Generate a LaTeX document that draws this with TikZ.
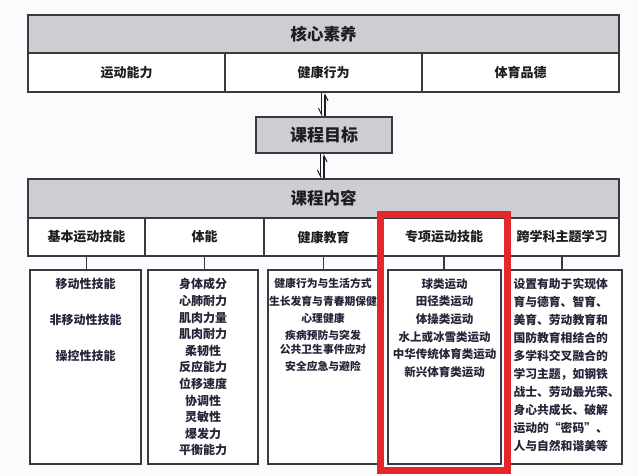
\documentclass[tikz,border=0pt]{standalone}
\usepackage{fontspec}
\setmainfont{Noto Sans CJK SC}
\usetikzlibrary{arrows.meta,fit,positioning}
\definecolor{ink}{HTML}{1E1E22}
\definecolor{listink}{HTML}{2A2238}
\definecolor{frame}{HTML}{3A3A3E}
\definecolor{headgray}{HTML}{CDCED3}
\definecolor{paper}{HTML}{FBFBFD}
\definecolor{alert}{HTML}{E5262A}
\tikzset{
  cell/.style={
    rectangle,
    draw=frame,
    line width=1.4pt,
    fill=white,
    inner sep=0pt,
    text=ink,
    font=\bfseries\fontsize{13}{15}\selectfont
  },
  headcell/.style={
    cell,
    fill=headgray,
    font=\bfseries\fontsize{16.5}{18}\selectfont
  },
  listbox/.style={
    cell,
    minimum height=194pt
  },
  listtext/.style={
    inner sep=0pt,
    anchor=north,
    align=center,
    text=listink,
    font=\bfseries\fontsize{12}{16.6}\selectfont
  },
  stem/.style={
    draw=frame,
    line width=1.4pt
  },
  harp/.style={
    -{Straight Barb[harpoon,swap,length=6pt,width=6pt,line width=1pt]},
    draw=ink,
    line width=1.1pt
  },
  highlight/.style={
    rectangle,
    draw=alert,
    line width=7pt,
    inner xsep=1.5pt,
    inner ysep=4pt
  }
}

\begin{document}
\begin{tikzpicture}[x=1pt,y=-1pt]

  % ============================================================
  % Canvas
  % ============================================================
  \fill[paper] (0,0) rectangle (638,476);
  \useasboundingbox (0,0) rectangle (638,476);

  % ============================================================
  % Core literacy block
  % ============================================================
  \node[headcell, minimum width=591pt, minimum height=38pt] (core)
       at (323.5, 34) {核心素养};
  \node[cell, minimum width=197pt, minimum height=39pt] (r1)
       at (126.5, 72.5) {运动能力};
  \node[cell, minimum width=197pt, minimum height=39pt] (r2)
       at (323.5, 72.5) {健康行为};
  \node[cell, minimum width=197pt, minimum height=39pt] (r3)
       at (520.5, 72.5) {体育品德};

  % ============================================================
  % Course goal
  % ============================================================
  \node[headcell, minimum width=136pt, minimum height=36pt,
        font=\bfseries\fontsize{17}{19}\selectfont] (goal)
       at (324, 135) {课程目标};

  % two-way harpoons between the blocks
  \draw[harp] ([xshift=-2pt]r2.south) -- ([xshift=-2pt]r2.south |- goal.north);
  \draw[harp] ([xshift=1.5pt]r2.south |- goal.north) -- ([xshift=1.5pt]r2.south);

  % ============================================================
  % Course content block
  % ============================================================
  \node[headcell, minimum width=591pt, minimum height=39pt] (content)
       at (323.5, 198.5) {课程内容};

  \draw[harp] ([xshift=-3.5pt]goal.south) -- ([xshift=-3.5pt]goal.south |- content.north);
  \draw[harp] (goal.south |- content.north) -- (goal.south);

  \node[cell, minimum width=117pt, minimum height=38pt] (c1)
       at (86.5, 237) {基本运动技能};
  \node[cell, minimum width=119pt, minimum height=38pt] (c2)
       at (204.5, 237) {体能};
  \node[cell, minimum width=119pt, minimum height=38pt] (c3)
       at (323.5, 237) {健康教育};
  \node[cell, minimum width=122pt, minimum height=38pt] (c4)
       at (444, 237) {专项运动技能};
  \node[cell, minimum width=114pt, minimum height=38pt] (c5)
       at (562, 237) {跨学科主题学习};

  % ============================================================
  % Lists under each content column
  % ============================================================
  \node[listbox, minimum width=111pt] (b1) at (85.5, 367) {};
  \node[listbox, minimum width=110pt] (b2) at (203, 367) {};
  \node[listbox, minimum width=110pt] (b3) at (323, 367) {};
  \node[listbox, minimum width=113pt] (b4) at (444.5, 367) {};
  \node[listbox, minimum width=112pt] (b5) at (566, 367) {};

  \foreach \i in {1,...,5}
    \draw[stem] (c\i.south) -- (c\i.south |- b\i.north);

  \node[listtext, font=\bfseries\fontsize{12}{36}\selectfont] (t1)
       at ([yshift=-9pt]b1.north)
       {移动性技能\\非移动性技能\\操控性技能};

  \node[listtext] (t2) at ([yshift=-9pt]b2.north)
       {身体成分\\心肺耐力\\肌肉力量\\肌肉耐力\\柔韧性\\反应能力\\
        位移速度\\协调性\\灵敏性\\爆发力\\平衡能力};

  \node[listtext, font=\bfseries\fontsize{10.8}{17.2}\selectfont] (t3)
       at ([yshift=-9pt]b3.north)
       {健康行为与生活方式\\生长发育与青春期保健\\心理健康\\
        疾病预防与突发\\[-3pt]公共卫生事件应对\\安全应急与避险};

  \node[listtext, font=\bfseries\fontsize{11.5}{17.6}\selectfont] (t4)
       at ([yshift=-9pt]b4.north)
       {球类运动\\田径类运动\\体操类运动\\水上或冰雪类运动\\
        中华传统体育类运动\\新兴体育类运动};

  \node[listtext, anchor=north west, align=left,
        font=\bfseries\fontsize{11.8}{18}\selectfont] (t5)
       at ([xshift=4pt,yshift=-9pt]b5.north west)
       {设置有助于实现体\\育与德育、智育、\\美育、劳动教育和\\
        国防教育相结合的\\多学科交叉融合的\\学习主题，如钢铁\\
        战士、劳动最光荣、\\身心共成长、破解\\运动的“密码”、\\
        人与自然和谐美等};

  % red highlight round the special sports skills column
  \node[highlight, fit=(c4)(b4), yshift=-1.5pt] (hl) {};

\end{tikzpicture}
\end{document}
